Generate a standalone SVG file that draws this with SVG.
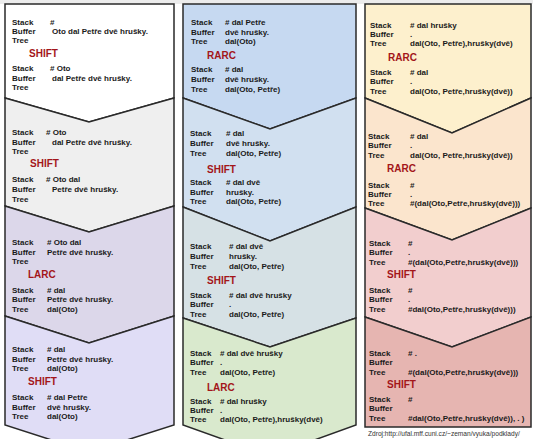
<svg xmlns="http://www.w3.org/2000/svg" width="533" height="439" viewBox="0 0 533 439">
<style>
.p{stroke:#2a2a2a;stroke-width:1.5;stroke-linejoin:miter}
text{font-family:"Liberation Sans",Arial,sans-serif;font-weight:bold;font-size:8px;fill:#1a1a1a}
text.a{font-size:10px;fill:#a3161a}
text.src{font-weight:normal;font-size:6.6px;fill:#333}
</style>
<rect x="0" y="0" width="533" height="439" fill="#ffffff"/>
<rect x="0" y="0" width="533" height="4" fill="#ececec"/>

<!-- Left column -->
<g id="L1">
<path class="p" fill="#ffffff" d="M5,4 H174 V98 L89,122 L5,98 Z"/>
<text x="12" y="25">Stack</text><text x="50" y="25"> #</text>
<text x="12" y="34">Buffer</text><text x="52" y="34">Oto dal Petře dvě hrušky.</text>
<text x="12" y="43">Tree</text>
<text class="a" x="29" y="57">SHIFT</text>
<text x="12" y="71">Stack</text><text x="50" y="71"># Oto</text>
<text x="12" y="81">Buffer</text><text x="52" y="81">dal Petře dvě hrušky.</text>
<text x="12" y="90">Tree</text>
</g>
<g id="L2">
<path class="p" fill="#efefef" d="M5,98 L89,122 L174,98 V206 L89,232 L5,206 Z"/>
<text x="12" y="135">Stack</text><text x="46" y="135"># Oto</text>
<text x="12" y="145">Buffer</text><text x="52" y="145">dal Petře dvě hrušky.</text>
<text x="12" y="154">Tree</text>
<text class="a" x="30" y="167">SHIFT</text>
<text x="12" y="182">Stack</text><text x="46" y="182"># Oto dal</text>
<text x="12" y="192">Buffer</text><text x="52" y="192">Petře dvě hrušky.</text>
<text x="12" y="202">Tree</text>
</g>
<g id="L3">
<path class="p" fill="#dcd7ea" d="M5,206 L89,232 L174,206 V316 L89,343 L5,316 Z"/>
<text x="12" y="245">Stack</text><text x="47" y="245"># Oto dal</text>
<text x="12" y="255">Buffer</text><text x="47" y="255">Petře dvě hrušky.</text>
<text x="12" y="264">Tree</text>
<text class="a" x="28" y="278">LARC</text>
<text x="12" y="293">Stack</text><text x="47" y="293"># dal</text>
<text x="12" y="302">Buffer</text><text x="47" y="302">Petře dvě hrušky.</text>
<text x="12" y="312">Tree</text><text x="47" y="312">dal(Oto)</text>
</g>
<g id="L4">
<path class="p" fill="#e0ddf6" d="M5,316 L89,343 L174,316 V425 L89,452 L5,425 Z"/>
<text x="12" y="352">Stack</text><text x="47" y="352"># dal</text>
<text x="12" y="362">Buffer</text><text x="47" y="362">Petře dvě hrušky.</text>
<text x="12" y="371">Tree</text><text x="47" y="371">dal(Oto)</text>
<text class="a" x="28" y="385">SHIFT</text>
<text x="12" y="400">Stack</text><text x="47" y="400"># dal Petře</text>
<text x="12" y="410">Buffer</text><text x="47" y="410">dvě hrušky.</text>
<text x="12" y="419">Tree</text><text x="47" y="419">dal(Oto)</text>
</g>

<!-- Middle column -->
<g id="M1">
<path class="p" fill="#c6d9f1" d="M183,4 H356 V98 L270,129 L183,98 Z"/>
<text x="191" y="25">Stack</text><text x="225" y="25"># dal Petře</text>
<text x="191" y="35">Buffer</text><text x="225" y="35">dvě hrušky.</text>
<text x="191" y="44">Tree</text><text x="225" y="44">dal(Oto)</text>
<text class="a" x="207" y="59">RARC</text>
<text x="191" y="72">Stack</text><text x="225" y="72"># dal</text>
<text x="191" y="82">Buffer</text><text x="225" y="82">dvě hrušky.</text>
<text x="191" y="92">Tree</text><text x="225" y="92">dal(Oto, Petře)</text>
</g>
<g id="M2">
<path class="p" fill="#d1e0f0" d="M183,98 L270,129 L356,98 V207 L270,241 L183,207 Z"/>
<text x="190" y="136">Stack</text><text x="226" y="136"># dal</text>
<text x="190" y="146">Buffer</text><text x="226" y="146">dvě hrušky.</text>
<text x="190" y="156">Tree</text><text x="226" y="156">dal(Oto, Petře)</text>
<text class="a" x="207" y="173">SHIFT</text>
<text x="190" y="185">Stack</text><text x="226" y="185"># dal dvě</text>
<text x="190" y="195">Buffer</text><text x="226" y="195">hrušky.</text>
<text x="190" y="204">Tree</text><text x="226" y="204">dal(Oto, Petře)</text>
</g>
<g id="M3">
<path class="p" fill="#d6e1e5" d="M183,207 L270,241 L356,207 V318 L270,347 L183,318 Z"/>
<text x="190" y="249">Stack</text><text x="229" y="249"># dal dvě</text>
<text x="190" y="259">Buffer</text><text x="229" y="259">hrušky.</text>
<text x="190" y="269">Tree</text><text x="229" y="269">dal(Oto, Petře)</text>
<text class="a" x="207" y="284">SHIFT</text>
<text x="190" y="298">Stack</text><text x="229" y="298"># dal dvě hrušky</text>
<text x="190" y="307">Buffer</text><text x="229" y="307">.</text>
<text x="190" y="317">Tree</text><text x="229" y="317">dal(Oto, Petře)</text>
</g>
<g id="M4">
<path class="p" fill="#d9e9cd" d="M183,318 L270,347 L356,318 V425 L270,456 L183,425 Z"/>
<text x="190" y="356">Stack</text><text x="220" y="356"># dal dvě hrušky</text>
<text x="190" y="365">Buffer</text><text x="220" y="365">.</text>
<text x="190" y="375">Tree</text><text x="220" y="375">dal(Oto, Petře)</text>
<text class="a" x="207" y="391">LARC</text>
<text x="190" y="404">Stack</text><text x="220" y="404"># dal hrušky</text>
<text x="190" y="413">Buffer</text><text x="220" y="413">.</text>
<text x="190" y="422">Tree</text><text x="220" y="422">dal(Oto, Petře),hrušky(dvě)</text>
</g>

<!-- Right column -->
<g id="R1">
<path class="p" fill="#fdf0cd" d="M365,4 H531 V98 L452,133 L365,98 Z"/>
<text x="370" y="28">Stack</text><text x="410" y="28"># dal hrušky</text>
<text x="370" y="37">Buffer</text><text x="410" y="37">.</text>
<text x="370" y="46">Tree</text><text x="410" y="46">dal(Oto, Petře),hrušky(dvě)</text>
<text class="a" x="388" y="61">RARC</text>
<text x="370" y="75">Stack</text><text x="410" y="75"># dal</text>
<text x="370" y="84">Buffer</text><text x="410" y="84">.</text>
<text x="370" y="94">Tree</text><text x="410" y="94">dal(Oto, Petře,hrušky(dvě))</text>
</g>
<g id="R2">
<path class="p" fill="#fbe5cd" d="M365,98 L452,133 L531,98 V208 L452,240 L365,208 Z"/>
<text x="368" y="139">Stack</text><text x="410" y="139"># dal</text>
<text x="368" y="148">Buffer</text><text x="410" y="148">.</text>
<text x="368" y="158">Tree</text><text x="410" y="158">dal(Oto, Petře,hrušky(dvě))</text>
<text class="a" x="387" y="172">RARC</text>
<text x="368" y="188">Stack</text><text x="410" y="188">#</text>
<text x="368" y="197">Buffer</text><text x="410" y="197">.</text>
<text x="368" y="206">Tree</text><text x="410" y="206">#(dal(Oto,Petře,hrušky(dvě)))</text>
</g>
<g id="R3">
<path class="p" fill="#f2cece" d="M365,208 L452,240 L531,208 V317 L452,347 L365,317 Z"/>
<text x="369" y="246">Stack</text><text x="408" y="246">#</text>
<text x="369" y="255">Buffer</text><text x="408" y="255">.</text>
<text x="369" y="265">Tree</text><text x="408" y="265">#(dal(Oto,Petře,hrušky(dvě)))</text>
<text class="a" x="387" y="278">SHIFT</text>
<text x="369" y="293">Stack</text><text x="408" y="293">#</text>
<text x="369" y="302">Buffer</text><text x="408" y="302">.</text>
<text x="369" y="312">Tree</text><text x="408" y="312">#dal(Oto,Petře,hrušky(dvě)))</text>
</g>
<g id="R4">
<path class="p" fill="#e6b5b1" d="M365,317 L452,347 L531,317 V427 H365 Z"/>
<text x="369" y="356">Stack</text><text x="408" y="356"># .</text>
<text x="369" y="365">Buffer</text>
<text x="369" y="375">Tree</text><text x="408" y="375">#(dal(Oto,Petře,hrušky(dvě)))</text>
<text class="a" x="387" y="388">SHIFT</text>
<text x="369" y="402">Stack</text><text x="408" y="402">#</text>
<text x="369" y="411">Buffer</text>
<text x="369" y="421">Tree</text><text x="408" y="421">#dal(Oto,Petře,hrušky(dvě)), . )</text>
</g>
<text class="src" x="368" y="436">Zdroj:http://ufal.mff.cuni.cz/~zeman/vyuka/podklady/</text>
</svg>
